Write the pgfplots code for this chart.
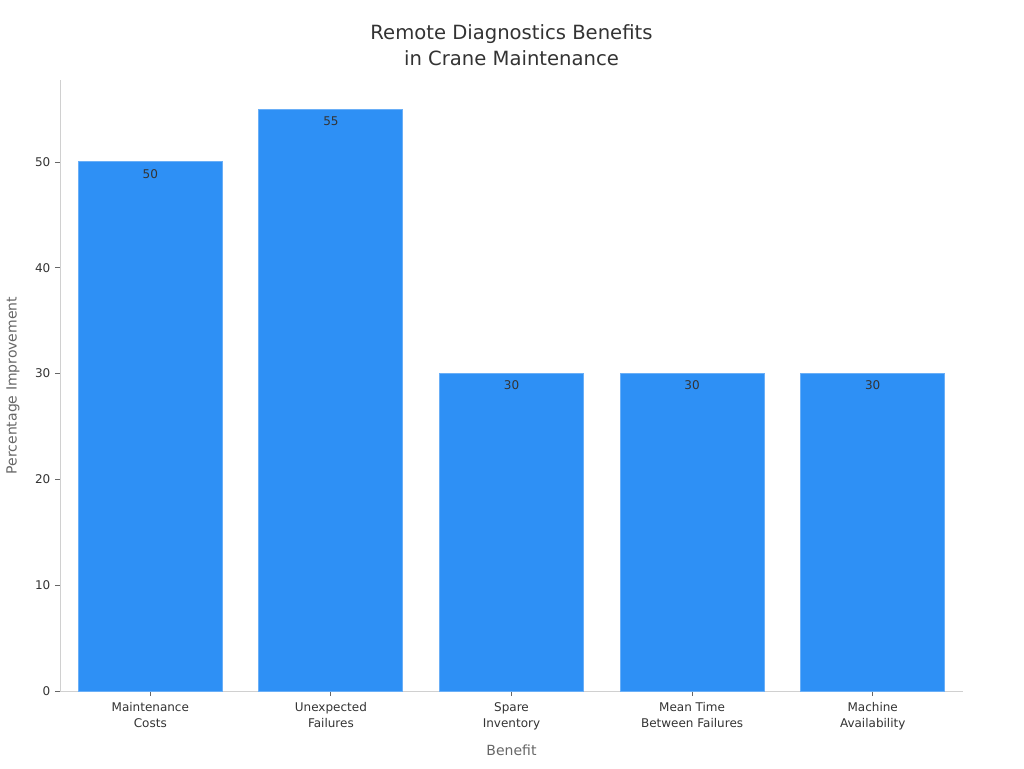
\documentclass[border=0pt]{standalone}
\usepackage{pgfplots}
\pgfplotsset{compat=1.18}
\usepackage{fontspec}
\setmainfont{DejaVu Sans}
\definecolor{barfill}{HTML}{2E90F5}
\definecolor{baredge}{HTML}{6AAFF7}
\definecolor{spine}{HTML}{D0D0D0}
\definecolor{tickgrey}{HTML}{666666}
\definecolor{labelgrey}{HTML}{666666}
\definecolor{textdark}{HTML}{333333}

\begin{document}
\begin{tikzpicture}
\useasboundingbox (0,0) rectangle (768pt,576pt);
\begin{axis}[
  at={(45pt,57.75pt)}, anchor=south west,
  scale only axis, width=677.25pt, height=458.25pt,
  xmin=-0.5, xmax=4.5, ymin=0, ymax=57.75,
  axis x line*=bottom, axis y line*=left,
  axis line style={-, spine, line width=0.75pt},
  tick align=outside, major tick length=3.75pt,
  tick style={tickgrey, line width=0.7pt},
  xtick={0,1,2,3,4},
  xticklabels={{Maintenance\\Costs},{Unexpected\\Failures},{Spare\\Inventory},{Mean Time\\Between Failures},{Machine\\Availability}},
  xticklabel style={align=center, yshift=-1.5pt, font=\fontsize{9}{12}\selectfont, text=textdark},
  ytick={0,10,20,30,40,50},
  yticklabel style={font=\fontsize{9}{11}\selectfont, text=textdark},
  /pgf/number format/assume math mode=true,
  ybar, bar width=108pt,
  xlabel={Benefit}, ylabel={Percentage Improvement},
  xlabel style={at={(axis description cs:0.5,0)}, anchor=center, yshift=-44.25pt,
    font=\fontsize{10.5}{12}\selectfont, text=labelgrey},
  ylabel style={at={(axis description cs:-0.052,0.5)}, anchor=center,
    font=\fontsize{10.5}{12}\selectfont, text=labelgrey},
  title={Remote Diagnostics Benefits\\in Crane Maintenance},
  title style={at={(axis description cs:0.5,1)}, anchor=center, yshift=20.25pt, align=center,
    font=\fontsize{14.7}{19.5}\selectfont, text=textdark},
  nodes near coords,
  every node near coord/.append style={anchor=center, yshift=-9pt,
    font=\fontsize{9}{11}\selectfont, text=textdark},
]
\addplot[fill=barfill, draw=baredge, line width=0.75pt] coordinates {
  (0,50) (1,55) (2,30) (3,30) (4,30)
};
\end{axis}
\end{tikzpicture}
\end{document}
